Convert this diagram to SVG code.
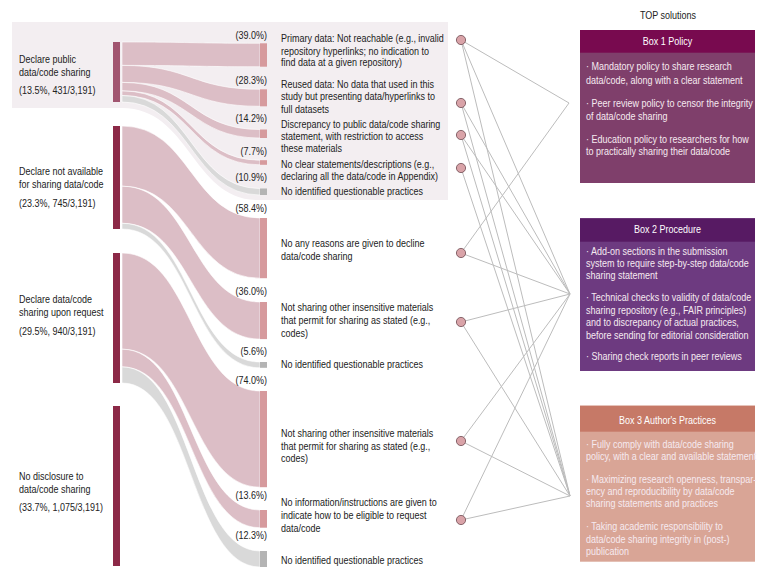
<svg xmlns="http://www.w3.org/2000/svg" width="763" height="569" viewBox="0 0 763 569">
<style>
text{font-family:"Liberation Sans",Arial,sans-serif;font-size:10px;fill:#222}
.e{text-anchor:end}
.m{text-anchor:middle}
.w{fill:#ffffff}
.wb{fill:#f6eaf0}
.bar1{fill:#a15570}
.bar{fill:#8c2947}
.fp{fill:#dcbec6;stroke:#ffffff;stroke-width:0.6}
.fg{fill:#d9d9d9;stroke:#ffffff;stroke-width:0.6}
.tp{fill:#d69a9d}
.tg{fill:#b4b4b4}
.cn line{stroke:#bcbcbc;stroke-width:1}
.nd{fill:#d9a3a8;stroke:#6e4a52;stroke-width:0.8}
</style>
<rect width="763" height="569" fill="#ffffff"/>
<path id="panel" d="M12,22 H448 V200 H258 C192,200 190,108 122,108 H12 Z" fill="#f3eef1"/>

<g id="cat-public">
<rect class="bar1" x="113" y="42" width="7" height="60"/>
<text transform="translate(19 63) scale(0.9 1)">Declare public</text>
<text transform="translate(19 76) scale(0.9 1)">data/code sharing</text>
<text transform="translate(19 94) scale(0.9 1)">(13.5%, 431/3,191)</text>
</g>
<g id="cat-notavail">
<rect class="bar" x="113" y="126" width="7" height="103"/>
<text transform="translate(19 175) scale(0.9 1)">Declare not available</text>
<text transform="translate(19 188) scale(0.9 1)">for sharing data/code</text>
<text transform="translate(19 207) scale(0.9 1)">(23.3%, 745/3,191)</text>
</g>
<g id="cat-request">
<rect class="bar" x="113" y="253" width="7" height="130"/>
<text transform="translate(19 302.5) scale(0.9 1)">Declare data/code</text>
<text transform="translate(19 316) scale(0.9 1)">sharing upon request</text>
<text transform="translate(19 335) scale(0.9 1)">(29.5%, 940/3,191)</text>
</g>
<g id="cat-nodisclosure">
<rect class="bar" x="113" y="406" width="7" height="160"/>
<text transform="translate(19 479.5) scale(0.9 1)">No disclosure to</text>
<text transform="translate(19 492.5) scale(0.9 1)">data/code sharing</text>
<text transform="translate(19 511) scale(0.9 1)">(33.7%, 1,075/3,191)</text>
</g>

<g id="flows">
<path class="fp" d="M122,42 C191,42 191,43.3 260,43.3 V66.7 C191,66.7 191,65.4 122,65.4 Z"/>
<path class="fp" d="M122,65.4 C191,65.4 191,89.3 260,89.3 V106.3 C191,106.3 191,82.4 122,82.4 Z"/>
<path class="fp" d="M122,82.4 C191,82.4 191,129.5 260,129.5 V138 C191,138 191,90.9 122,90.9 Z"/>
<path class="fp" d="M122,90.9 C191,90.9 191,160.2 260,160.2 V164.8 C191,164.8 191,95.5 122,95.5 Z"/>
<path class="fg" d="M122,95.5 C191,95.5 191,188.5 260,188.5 V195 C191,195 191,102 122,102 Z"/>
<path class="fp" d="M122,126 C191,126 191,218 260,218 V278.2 C191,278.2 191,186.2 122,186.2 Z"/>
<path class="fp" d="M122,186.2 C191,186.2 191,302 260,302 V339.1 C191,339.1 191,223.3 122,223.3 Z"/>
<path class="fg" d="M122,223.3 C191,223.3 191,362 260,362 V367.8 C191,367.8 191,229 122,229 Z"/>
<path class="fp" d="M122,253 C191,253 191,391 260,391 V487.2 C191,487.2 191,349.2 122,349.2 Z"/>
<path class="fp" d="M122,349.2 C191,349.2 191,510 260,510 V527.7 C191,527.7 191,366.9 122,366.9 Z"/>
<path class="fg" d="M122,366.9 C191,366.9 191,551 260,551 V567 C191,567 191,383 122,383 Z"/>
</g>

<g id="t-primary">
<rect class="tp" x="260" y="43.3" width="7" height="23.4"/>
<text class="e" transform="translate(267 38.5) scale(0.9 1)">(39.0%)</text>
<text transform="translate(281 41.8) scale(0.9 1)">Primary data: Not reachable (e.g., invalid</text>
<text transform="translate(281 54.5) scale(0.9 1)">repository hyperlinks; no indication to</text>
<text transform="translate(281 66.2) scale(0.9 1)">find data at a given repository)</text>
</g>
<g id="t-reused">
<rect class="tp" x="260" y="89.3" width="7" height="17"/>
<text class="e" transform="translate(267 83.5) scale(0.9 1)">(28.3%)</text>
<text transform="translate(281 87.8) scale(0.9 1)">Reused data: No data that used in this</text>
<text transform="translate(281 100.2) scale(0.9 1)">study but presenting data/hyperlinks to</text>
<text transform="translate(281 112.5) scale(0.9 1)">full datasets</text>
</g>
<g id="t-discrepancy">
<rect class="tp" x="260" y="129.5" width="7" height="8.5"/>
<text class="e" transform="translate(267 122) scale(0.9 1)">(14.2%)</text>
<text transform="translate(281 127.8) scale(0.9 1)">Discrepancy to public data/code sharing</text>
<text transform="translate(281 139.8) scale(0.9 1)">statement, with restriction to access</text>
<text transform="translate(281 152.2) scale(0.9 1)">these materials</text>
</g>
<g id="t-noclear">
<rect class="tp" x="260" y="160.2" width="7" height="4.6"/>
<text class="e" transform="translate(267 154.5) scale(0.9 1)">(7.7%)</text>
<text transform="translate(281 167.5) scale(0.9 1)">No clear statements/descriptions (e.g.,</text>
<text transform="translate(281 180.2) scale(0.9 1)">declaring all the data/code in Appendix)</text>
</g>
<g id="t-none1">
<rect class="tg" x="260" y="188.5" width="7" height="6.5"/>
<text class="e" transform="translate(267 181) scale(0.9 1)">(10.9%)</text>
<text transform="translate(281 195.2) scale(0.9 1)">No identified questionable practices</text>
</g>
<g id="t-noreason">
<rect class="tp" x="260" y="218" width="7" height="60.2"/>
<text class="e" transform="translate(267 211.5) scale(0.9 1)">(58.4%)</text>
<text transform="translate(281 246.8) scale(0.9 1)">No any reasons are given to decline</text>
<text transform="translate(281 259.5) scale(0.9 1)">data/code sharing</text>
</g>
<g id="t-notsharing1">
<rect class="tp" x="260" y="302" width="7" height="37.1"/>
<text class="e" transform="translate(267 294.5) scale(0.9 1)">(36.0%)</text>
<text transform="translate(281 310.8) scale(0.9 1)">Not sharing other insensitive materials</text>
<text transform="translate(281 324.2) scale(0.9 1)">that permit for sharing as stated (e.g.,</text>
<text transform="translate(281 336.8) scale(0.9 1)">codes)</text>
</g>
<g id="t-none2">
<rect class="tg" x="260" y="362" width="7" height="5.8"/>
<text class="e" transform="translate(267 354.5) scale(0.9 1)">(5.6%)</text>
<text transform="translate(281 367.8) scale(0.9 1)">No identified questionable practices</text>
</g>
<g id="t-notsharing2">
<rect class="tp" x="260" y="391" width="7" height="96.2"/>
<text class="e" transform="translate(267 383.5) scale(0.9 1)">(74.0%)</text>
<text transform="translate(281 436.8) scale(0.9 1)">Not sharing other insensitive materials</text>
<text transform="translate(281 449.5) scale(0.9 1)">that permit for sharing as stated (e.g.,</text>
<text transform="translate(281 462.2) scale(0.9 1)">codes)</text>
</g>
<g id="t-noinfo">
<rect class="tp" x="260" y="510" width="7" height="17.7"/>
<text class="e" transform="translate(267 498.5) scale(0.9 1)">(13.6%)</text>
<text transform="translate(281 506.2) scale(0.9 1)">No information/instructions are given to</text>
<text transform="translate(281 518.8) scale(0.9 1)">indicate how to be eligible to request</text>
<text transform="translate(281 531.5) scale(0.9 1)">data/code</text>
</g>
<g id="t-none3">
<rect class="tg" x="260" y="551" width="7" height="16"/>
<text class="e" transform="translate(267 539) scale(0.9 1)">(12.3%)</text>
<text transform="translate(281 563.5) scale(0.9 1)">No identified questionable practices</text>
</g>

<g id="connectors" class="cn">
<line x1="461" y1="40" x2="569" y2="103"/>
<line x1="461" y1="40" x2="570" y2="294"/>
<line x1="461" y1="40" x2="570" y2="496"/>
<line x1="461" y1="103" x2="570" y2="294"/>
<line x1="461" y1="103" x2="570" y2="496"/>
<line x1="461" y1="135" x2="570" y2="294"/>
<line x1="461" y1="135" x2="570" y2="496"/>
<line x1="461" y1="168" x2="570" y2="496"/>
<line x1="461" y1="253" x2="569" y2="103"/>
<line x1="461" y1="253" x2="570" y2="294"/>
<line x1="461" y1="322" x2="570" y2="294"/>
<line x1="461" y1="322" x2="570" y2="496"/>
<line x1="461" y1="441" x2="570" y2="294"/>
<line x1="461" y1="441" x2="570" y2="496"/>
<line x1="461" y1="520" x2="570" y2="294"/>
<line x1="461" y1="520" x2="570" y2="496"/>
</g>

<g id="dots">
<circle id="n1" class="nd" cx="461" cy="40" r="4.6"/>
<circle id="n2" class="nd" cx="461" cy="103" r="4.6"/>
<circle id="n3" class="nd" cx="461" cy="135" r="4.6"/>
<circle id="n4" class="nd" cx="461" cy="168" r="4.6"/>
<circle id="n5" class="nd" cx="461" cy="253" r="4.6"/>
<circle id="n6" class="nd" cx="461" cy="322" r="4.6"/>
<circle id="n7" class="nd" cx="461" cy="441" r="4.6"/>
<circle id="n8" class="nd" cx="461" cy="520" r="4.6"/>
</g>

<text class="m" transform="translate(668 18.5) scale(0.9 1)">TOP solutions</text>

<g id="box1">
<rect x="580" y="30" width="175" height="153" fill="#7f3f6b"/>
<rect x="580" y="30" width="175" height="22.7" fill="#780a4f"/>
<text class="m w" transform="translate(667.5 45.3) scale(0.9 1)">Box 1 Policy</text>
<text class="wb" transform="translate(586 70.2) scale(0.9 1)">· Mandatory policy to share research</text>
<text class="wb" transform="translate(586 83.5) scale(0.9 1)">data/code, along with a clear statement</text>
<text class="wb" transform="translate(586 106.8) scale(0.9 1)">· Peer review policy to censor the integrity</text>
<text class="wb" transform="translate(586 119.5) scale(0.9 1)">of data/code sharing</text>
<text class="wb" transform="translate(586 142.8) scale(0.9 1)">· Education policy to researchers for how</text>
<text class="wb" transform="translate(586 155.2) scale(0.9 1)">to practically sharing their data/code</text>
</g>
<g id="box2">
<rect x="580" y="218.3" width="175" height="152.7" fill="#6d3a80"/>
<rect x="580" y="218.3" width="175" height="23.4" fill="#571a63"/>
<text class="m w" transform="translate(667.5 233) scale(0.9 1)">Box 2 Procedure</text>
<text class="wb" transform="translate(586 254.5) scale(0.9 1)">· Add-on sections in the submission</text>
<text class="wb" transform="translate(586 266.8) scale(0.9 1)">system to require step-by-step data/code</text>
<text class="wb" transform="translate(586 279.2) scale(0.9 1)">sharing statement</text>
<text class="wb" transform="translate(586 300.8) scale(0.9 1)">· Technical checks to validity of data/code</text>
<text class="wb" transform="translate(586 313.5) scale(0.9 1)">sharing repository (e.g., FAIR principles)</text>
<text class="wb" transform="translate(586 325.8) scale(0.9 1)">and to discrepancy of actual practices,</text>
<text class="wb" transform="translate(586 338.5) scale(0.9 1)">before sending for editorial consideration</text>
<text class="wb" transform="translate(586 359.5) scale(0.9 1)">· Sharing check reports in peer reviews</text>
</g>
<g id="box3">
<rect x="580" y="405.7" width="175" height="156" fill="#d9a596"/>
<rect x="580" y="405.7" width="175" height="26" fill="#c67967"/>
<text class="m w" transform="translate(667.5 423.8) scale(0.9 1)">Box 3 Author's Practices</text>
<text class="wb" transform="translate(586 447.8) scale(0.9 1)">· Fully comply with data/code sharing</text>
<text class="wb" transform="translate(586 460.2) scale(0.9 1)">policy, with a clear and available statement</text>
<text class="wb" transform="translate(586 482.8) scale(0.9 1)">· Maximizing research openness, transpar-</text>
<text class="wb" transform="translate(586 495.2) scale(0.9 1)">ency and reproducibility by data/code</text>
<text class="wb" transform="translate(586 506.8) scale(0.9 1)">sharing statements and practices</text>
<text class="wb" transform="translate(586 530.2) scale(0.9 1)">· Taking academic responsibility to</text>
<text class="wb" transform="translate(586 542.5) scale(0.9 1)">data/code sharing integrity in (post-)</text>
<text class="wb" transform="translate(586 555.2) scale(0.9 1)">publication</text>
</g>
</svg>
